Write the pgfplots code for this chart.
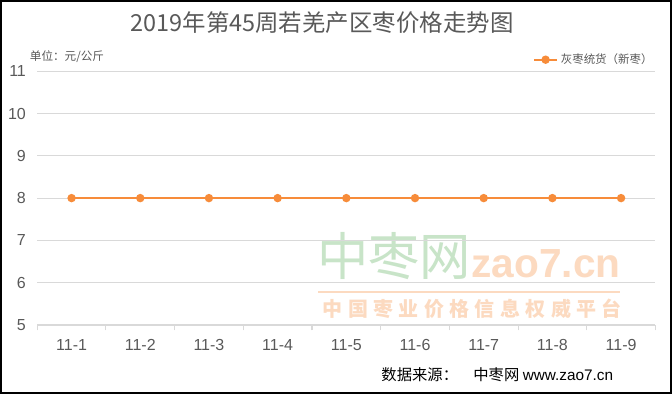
\documentclass[border=0pt]{standalone}
\usepackage{pgfplots}
\pgfplotsset{compat=1.18}
\usepackage{fontspec}
\setmainfont{Liberation Sans}
\newfontfamily\cjk{Noto Sans CJK SC}
\newfontfamily\cjkwide[LetterSpace=27]{Noto Sans CJK SC}
\definecolor{ln}{RGB}{247,140,58}
\definecolor{txt}{RGB}{89,89,89}
\definecolor{grd}{RGB}{217,217,217}
\definecolor{wmg}{RGB}{200,228,200}
\definecolor{wmo}{RGB}{252,218,192}
\begin{document}
\begin{tikzpicture}[x=0.75pt,y=0.75pt]
\fill[white] (0,0) rectangle (672,394);
% watermark
\node[text=wmg,font=\cjk\fontsize{38.5}{40}\selectfont,anchor=center] at (394,138) {中枣网};
\node[text=wmo,font=\bfseries\fontsize{30.5}{32}\selectfont,anchor=west] at (467,130) {zao7.cn};
\draw[wmo,line width=1.5pt] (318,102) -- (620,102);
\node[text=wmo,font=\cjkwide\bfseries\fontsize{15}{18}\selectfont,anchor=west] at (318,85) {中国枣业价格信息权威平台};
\begin{axis}[
  at={(27.75pt,51.75pt)}, anchor=south west,
  scale only axis, width=464pt, height=190.5pt,
  xmin=-0.5, xmax=8.5, ymin=5, ymax=11,
  ytick={5,6,7,8,9,10,11},
  xtick={-0.5,0.5,...,8.5}, xticklabels={},
  extra x ticks={0,1,2,3,4,5,6,7,8},
  extra x tick labels={11-1,11-2,11-3,11-4,11-5,11-6,11-7,11-8,11-9},
  extra x tick style={major tick length=0pt, grid=none},
  axis x line*=bottom, axis y line*=left,
  x axis line style={draw=grd, line width=0.8pt, -},
  y axis line style={draw=none},
  ytick style={draw=none},
  xtick style={draw=grd, line width=0.8pt},
  tick align=outside, major tick length=4pt,
  ymajorgrids, grid style={grd, line width=0.6pt},
  tick label style={text=txt, font=\fontsize{12}{14}\selectfont},
  /pgf/number format/assume math mode=true,
  xticklabel style={yshift=-7pt},
  yticklabel style={xshift=-1pt},
  legend style={at={(rel axis cs:1,1)}, anchor=south east, draw=none, fill=none,
    font=\cjk\fontsize{8.6}{10}\selectfont, text=txt, yshift=0pt, xshift=3pt},
  legend cell align=left,
  clip=false,
]
\addplot[ln, line width=1.8pt, mark=*, mark size=2.2pt, mark options={fill=ln, draw=ln}]
  coordinates {(0,8) (1,8) (2,8) (3,8) (4,8) (5,8) (6,8) (7,8) (8,8)};
\addlegendentry{灰枣统货（新枣）}
\end{axis}
\node[font=\cjk\fontsize{17.6}{20}\selectfont, text=txt] at (322,372) {2019年第45周若羌产区枣价格走势图};
\node[font=\cjk\fontsize{8.7}{10}\selectfont, text=txt, anchor=west] at (25,338) {单位：元/公斤};
\node[font=\cjk\fontsize{11.5}{13}\selectfont, anchor=east] at (618,19) {数据来源：\quad 中枣网 {\fontspec{Liberation Sans}www.zao7.cn}};
\draw[black,line width=1.5pt] (0.75,0.75) rectangle (671.25,393.25);
\end{tikzpicture}
\end{document}
